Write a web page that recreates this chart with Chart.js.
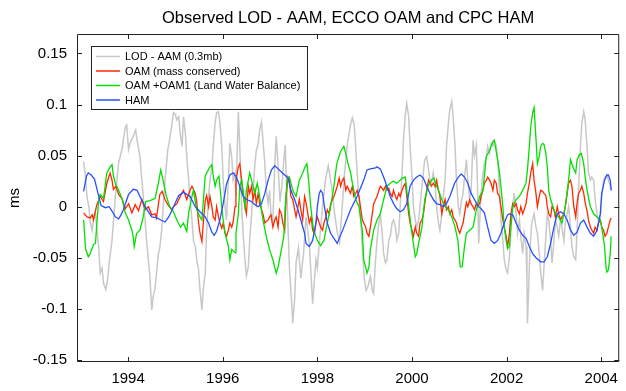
<!DOCTYPE html>
<html>
<head>
<meta charset="utf-8">
<title>Observed LOD - AAM, ECCO OAM and CPC HAM</title>
<script src="https://cdn.jsdelivr.net/npm/chart.js@4.4.1/dist/chart.umd.min.js"></script>
<style>
  html, body { margin: 0; padding: 0; background: #fff; }
</style>
</head>
<body>
<canvas id="lodChart" width="626" height="391"></canvas>
<script>
const chartTitle = 'Observed LOD - AAM, ECCO OAM and CPC HAM';
const seriesNames = ['LOD - AAM (0.3mb)', 'OAM (mass conserved)', 'OAM +OAM1 (Land Water Balance)', 'HAM'];
const seriesColors = ['#c8c8c8', '#ff2800', '#00e000', '#2850ff'];
const yearTicks = [1994, 1996, 1998, 2000, 2002, 2004];
const msTicks = [-0.15, -0.1, -0.05, 0, 0.05, 0.1, 0.15];

// LOD - AAM (0.3mb)
const lodYears = [
  1993.06, 1993.10, 1993.13, 1993.17, 1993.20, 1993.24, 1993.27, 1993.31, 1993.34, 1993.38,
  1993.41, 1993.45, 1993.48, 1993.53, 1993.57, 1993.60, 1993.66, 1993.73, 1993.80, 1993.87,
  1993.94, 1993.97, 1994.01, 1994.04, 1994.11, 1994.16, 1994.19, 1994.25, 1994.32, 1994.39,
  1994.46, 1994.50, 1994.53, 1994.57, 1994.64, 1994.67, 1994.71, 1994.74, 1994.78, 1994.84,
  1994.88, 1994.93, 1994.96, 1995.00, 1995.03, 1995.07, 1995.10, 1995.14, 1995.17, 1995.21,
  1995.24, 1995.28, 1995.31, 1995.35, 1995.38, 1995.42, 1995.45, 1995.49, 1995.52, 1995.56,
  1995.59, 1995.63, 1995.66, 1995.70, 1995.73, 1995.77, 1995.80, 1995.84, 1995.87, 1995.91,
  1995.94, 1995.98, 1996.01, 1996.05, 1996.08, 1996.12, 1996.15, 1996.19, 1996.22, 1996.26,
  1996.28, 1996.33, 1996.36, 1996.40, 1996.43, 1996.47, 1996.50, 1996.54, 1996.57, 1996.61,
  1996.64, 1996.68, 1996.71, 1996.75, 1996.78, 1996.82, 1996.85, 1996.89, 1996.92, 1996.96,
  1996.99, 1997.02, 1997.06, 1997.10, 1997.13, 1997.17, 1997.21, 1997.25, 1997.29, 1997.32,
  1997.35, 1997.39, 1997.41, 1997.45, 1997.48, 1997.52, 1997.55, 1997.60, 1997.65, 1997.71,
  1997.76, 1997.83, 1997.90, 1997.94, 1997.97, 1998.00, 1998.04, 1998.11, 1998.17, 1998.23,
  1998.30, 1998.36, 1998.42, 1998.47, 1998.51, 1998.57, 1998.63, 1998.70, 1998.74, 1998.78,
  1998.82, 1998.86, 1998.91, 1998.95, 1998.99, 1999.03, 1999.07, 1999.12, 1999.16, 1999.19,
  1999.22, 1999.26, 1999.30, 1999.33, 1999.37, 1999.40, 1999.44, 1999.47, 1999.51, 1999.54,
  1999.58, 1999.61, 1999.65, 1999.68, 1999.72, 1999.75, 1999.79, 1999.82, 1999.86, 1999.89,
  1999.93, 1999.96, 2000.00, 2000.03, 2000.07, 2000.10, 2000.14, 2000.17, 2000.21, 2000.24,
  2000.27, 2000.31, 2000.35, 2000.38, 2000.41, 2000.45, 2000.49, 2000.52, 2000.56, 2000.59,
  2000.63, 2000.66, 2000.70, 2000.73, 2000.77, 2000.80, 2000.84, 2000.87, 2000.91, 2000.94,
  2000.98, 2001.01, 2001.05, 2001.08, 2001.11, 2001.15, 2001.18, 2001.22, 2001.25, 2001.29,
  2001.32, 2001.36, 2001.39, 2001.41, 2001.44, 2001.48, 2001.53, 2001.57, 2001.60, 2001.64,
  2001.67, 2001.71, 2001.74, 2001.78, 2001.81, 2001.85, 2001.88, 2001.92, 2001.95, 2001.99,
  2002.02, 2002.06, 2002.09, 2002.13, 2002.16, 2002.20, 2002.23, 2002.27, 2002.30, 2002.34,
  2002.37, 2002.41, 2002.43, 2002.44, 2002.46, 2002.49, 2002.53, 2002.58, 2002.62, 2002.65,
  2002.69, 2002.72, 2002.76, 2002.79, 2002.83, 2002.86, 2002.89, 2002.93, 2002.96, 2003.00,
  2003.03, 2003.07, 2003.10, 2003.14, 2003.17, 2003.21, 2003.24, 2003.28, 2003.31, 2003.35,
  2003.38, 2003.42, 2003.46, 2003.49, 2003.52, 2003.56, 2003.59, 2003.63, 2003.66, 2003.70,
  2003.73, 2003.77, 2003.80, 2003.84, 2003.87, 2003.91, 2003.94, 2003.98, 2004.01, 2004.05,
  2004.08, 2004.12, 2004.15, 2004.19, 2004.21
];
const lodValues = [
  0.044, 0.030, 0.010, 0.000, -0.015, -0.023, -0.010, -0.005, -0.023, -0.040,
  -0.065, -0.060, -0.075, -0.081, -0.070, -0.055, -0.033, 0.010, 0.043, 0.056,
  0.078, 0.080, 0.056, 0.062, 0.069, 0.075, 0.065, 0.049, 0.010, -0.033,
  -0.068, -0.101, -0.088, -0.080, -0.046, -0.040, -0.023, 0.000, 0.026, 0.056,
  0.066, 0.082, 0.092, 0.090, 0.085, 0.088, 0.072, 0.059, 0.088, 0.072,
  0.049, 0.026, 0.007, -0.013, -0.033, -0.039, -0.052, -0.062, -0.082, -0.101,
  -0.080, -0.065, -0.023, 0.010, 0.026, 0.039, 0.059, 0.082, 0.092, 0.093,
  0.082, 0.059, 0.026, 0.000, -0.013, 0.026, 0.062, 0.049, 0.026, 0.033,
  0.010, 0.093, 0.059, 0.000, -0.026, -0.052, -0.068, -0.059, -0.033, -0.007,
  0.016, 0.042, 0.055, 0.062, 0.075, 0.083, 0.065, 0.042, 0.016, 0.003,
  0.016, -0.007, -0.013, 0.040, 0.069, 0.040, 0.005, 0.020, 0.045, 0.060,
  0.020, -0.033, -0.060, -0.090, -0.114, -0.090, -0.055, -0.040, -0.070, -0.045,
  -0.010, -0.036, -0.095, -0.070, -0.052, -0.060, -0.036, 0.000, 0.026, 0.040,
  0.020, -0.005, -0.025, -0.035, -0.010, 0.030, 0.060, 0.080, 0.087, 0.080,
  0.050, 0.020, -0.010, -0.040, -0.070, -0.082, -0.078, -0.068, -0.082, -0.085,
  -0.060, -0.033, -0.016, -0.007, -0.026, -0.046, -0.055, -0.052, -0.033, -0.029,
  -0.016, -0.013, -0.020, -0.033, -0.026, 0.000, 0.033, 0.065, 0.091, 0.101,
  0.088, 0.059, 0.029, 0.000, -0.013, -0.020, -0.013, 0.000, 0.020, 0.033,
  0.046, 0.049, 0.036, 0.026, 0.023, 0.033, 0.020, 0.000, -0.016, -0.023,
  -0.007, 0.010, 0.026, 0.059, 0.082, 0.095, 0.103, 0.088, 0.059, 0.026,
  0.000, -0.007, 0.007, 0.013, 0.029, 0.046, 0.026, 0.007, 0.016, 0.065,
  0.050, 0.060, 0.010, -0.036, -0.006, 0.026, 0.042, 0.049, 0.059, 0.052,
  0.062, 0.059, 0.065, 0.060, 0.046, 0.016, -0.013, -0.033, -0.052, -0.062,
  -0.065, -0.049, -0.020, 0.000, 0.013, -0.007, -0.026, -0.013, -0.029, -0.046,
  -0.026, -0.039, -0.072, -0.114, -0.088, -0.046, -0.016, -0.007, -0.020, -0.026,
  -0.046, -0.065, -0.082, -0.059, -0.029, -0.007, -0.013, -0.033, -0.055, -0.033,
  -0.013, -0.020, -0.029, -0.013, -0.020, -0.033, -0.016, -0.007, 0.000, -0.020,
  -0.039, -0.049, -0.052, -0.023, 0.016, 0.059, 0.082, 0.093, 0.085, 0.059,
  0.033, 0.026, 0.029, 0.026, 0.007, -0.007, -0.013, -0.010, 0.010, 0.026,
  0.029, 0.031, 0.026, 0.020, 0.016
];

// OAM (mass conserved)
const oamYears = [
  1993.06, 1993.13, 1993.20, 1993.24, 1993.27, 1993.31, 1993.34, 1993.41, 1993.48, 1993.55,
  1993.62, 1993.66, 1993.69, 1993.74, 1993.80, 1993.87, 1993.94, 1994.01, 1994.08, 1994.15,
  1994.22, 1994.29, 1994.36, 1994.43, 1994.50, 1994.57, 1994.60, 1994.67, 1994.72, 1994.78,
  1994.84, 1994.92, 1994.96, 1995.03, 1995.11, 1995.17, 1995.24, 1995.31, 1995.35, 1995.42,
  1995.45, 1995.49, 1995.52, 1995.56, 1995.59, 1995.63, 1995.66, 1995.70, 1995.73, 1995.77,
  1995.80, 1995.84, 1995.87, 1995.91, 1995.94, 1995.98, 1996.01, 1996.05, 1996.08, 1996.12,
  1996.15, 1996.19, 1996.22, 1996.26, 1996.28, 1996.33, 1996.36, 1996.40, 1996.43, 1996.47,
  1996.50, 1996.54, 1996.57, 1996.61, 1996.64, 1996.68, 1996.71, 1996.75, 1996.78, 1996.82,
  1996.85, 1996.89, 1996.96, 1996.99, 1997.02, 1997.06, 1997.10, 1997.13, 1997.17, 1997.20,
  1997.24, 1997.27, 1997.31, 1997.34, 1997.38, 1997.41, 1997.44, 1997.48, 1997.52, 1997.55,
  1997.59, 1997.62, 1997.65, 1997.69, 1997.73, 1997.76, 1997.80, 1997.83, 1997.87, 1997.90,
  1997.94, 1997.97, 1998.00, 1998.04, 1998.07, 1998.11, 1998.14, 1998.18, 1998.21, 1998.25,
  1998.28, 1998.35, 1998.42, 1998.46, 1998.49, 1998.53, 1998.56, 1998.60, 1998.63, 1998.67,
  1998.70, 1998.74, 1998.77, 1998.81, 1998.84, 1998.88, 1998.91, 1998.95, 1998.98, 1999.02,
  1999.05, 1999.09, 1999.12, 1999.16, 1999.19, 1999.23, 1999.26, 1999.30, 1999.33, 1999.37,
  1999.40, 1999.44, 1999.47, 1999.51, 1999.54, 1999.58, 1999.61, 1999.65, 1999.68, 1999.72,
  1999.75, 1999.79, 1999.82, 1999.86, 1999.89, 1999.93, 1999.96, 2000.00, 2000.03, 2000.07,
  2000.10, 2000.14, 2000.17, 2000.21, 2000.24, 2000.27, 2000.31, 2000.35, 2000.38, 2000.41,
  2000.45, 2000.49, 2000.52, 2000.56, 2000.59, 2000.63, 2000.66, 2000.70, 2000.73, 2000.77,
  2000.80, 2000.84, 2000.87, 2000.91, 2000.94, 2000.98, 2001.01, 2001.05, 2001.08, 2001.11,
  2001.15, 2001.18, 2001.22, 2001.25, 2001.29, 2001.32, 2001.36, 2001.39, 2001.43, 2001.46,
  2001.50, 2001.53, 2001.57, 2001.60, 2001.64, 2001.67, 2001.71, 2001.74, 2001.78, 2001.81,
  2001.85, 2001.88, 2001.92, 2001.95, 2001.99, 2002.02, 2002.06, 2002.09, 2002.13, 2002.16,
  2002.20, 2002.23, 2002.27, 2002.30, 2002.34, 2002.37, 2002.41, 2002.44, 2002.48, 2002.51,
  2002.55, 2002.58, 2002.62, 2002.65, 2002.69, 2002.72, 2002.76, 2002.79, 2002.83, 2002.86,
  2002.89, 2002.93, 2002.96, 2003.00, 2003.03, 2003.07, 2003.10, 2003.14, 2003.17, 2003.21,
  2003.24, 2003.28, 2003.31, 2003.35, 2003.38, 2003.42, 2003.46, 2003.49, 2003.52, 2003.56,
  2003.59, 2003.63, 2003.66, 2003.70, 2003.73, 2003.77, 2003.80, 2003.84, 2003.87, 2003.91,
  2003.94, 2003.98, 2004.01, 2004.05, 2004.08, 2004.12, 2004.15, 2004.19, 2004.21
];
const oamValues = [
  -0.006, -0.010, -0.011, -0.008, -0.013, -0.004, 0.002, 0.010, 0.005, 0.023,
  0.033, 0.026, 0.017, 0.020, 0.012, 0.008, -0.002, 0.003, -0.006, 0.002,
  -0.004, 0.007, -0.003, 0.000, -0.008, -0.007, -0.011, 0.012, 0.015, 0.007,
  0.002, -0.003, 0.000, 0.003, 0.011, 0.016, 0.007, 0.016, 0.020, 0.013,
  0.005, -0.016, -0.026, -0.034, -0.016, 0.006, 0.011, 0.000, 0.010, 0.000,
  -0.010, -0.013, 0.000, -0.010, -0.016, -0.021, -0.016, -0.026, -0.029, -0.023,
  -0.016, -0.020, -0.015, 0.000, 0.026, 0.039, 0.042, 0.026, 0.013, 0.000,
  -0.007, 0.020, 0.013, 0.020, 0.007, 0.016, 0.003, 0.013, 0.003, -0.003,
  -0.007, -0.016, -0.013, -0.010, -0.008, -0.020, -0.013, -0.010, -0.020, -0.003,
  -0.007, -0.016, -0.023, 0.010, 0.029, 0.026, 0.010, 0.007, -0.003, -0.010,
  0.000, 0.007, -0.003, -0.013, 0.010, 0.004, -0.007, -0.016, -0.010, -0.023,
  -0.026, -0.016, -0.010, -0.016, -0.020, -0.023, -0.016, -0.010, -0.003, -0.007,
  0.003, 0.010, 0.020, 0.028, 0.020, 0.026, 0.028, 0.016, 0.020, 0.016,
  0.013, 0.020, 0.010, 0.013, 0.016, 0.010, 0.000, -0.013, -0.016, -0.020,
  -0.026, -0.029, -0.020, -0.007, 0.003, 0.007, 0.010, 0.016, 0.020, 0.018,
  0.016, 0.020, 0.016, 0.018, 0.013, 0.010, 0.016, 0.010, 0.007, 0.013,
  0.010, 0.016, 0.020, 0.023, 0.010, -0.007, -0.016, -0.023, -0.029, -0.020,
  -0.026, -0.029, -0.016, -0.013, -0.007, 0.003, 0.016, 0.026, 0.023, 0.020,
  0.023, 0.020, 0.026, 0.016, 0.010, -0.007, 0.000, 0.007, -0.003, 0.000,
  -0.007, -0.003, -0.010, -0.013, -0.016, -0.023, -0.026, -0.020, -0.016, -0.007,
  0.004, 0.000, 0.007, 0.003, 0.000, -0.003, 0.003, 0.000, 0.003, 0.010,
  0.016, 0.023, 0.026, 0.029, 0.026, 0.023, 0.016, 0.026, 0.023, 0.013,
  0.010, 0.000, -0.013, -0.020, -0.029, -0.039, -0.026, -0.007, 0.003, 0.000,
  0.003, -0.003, -0.007, 0.000, -0.007, -0.003, 0.003, 0.013, 0.023, 0.033,
  0.042, 0.026, 0.013, 0.000, 0.010, 0.016, 0.015, 0.013, 0.011, 0.000,
  -0.007, -0.010, 0.000, -0.003, -0.010, 0.000, -0.007, -0.013, -0.010, -0.007,
  0.000, 0.013, 0.023, 0.026, 0.020, 0.000, -0.010, 0.004, 0.013, 0.016,
  0.020, 0.013, 0.004, -0.004, -0.013, -0.020, -0.023, -0.026, -0.020, -0.023,
  -0.016, -0.013, -0.020, -0.023, -0.029, -0.026, -0.020, -0.013, -0.011
];

// OAM + OAM1 (Land Water Balance)
const oamLwbYears = [
  1993.06, 1993.10, 1993.16, 1993.19, 1993.27, 1993.31, 1993.34, 1993.38, 1993.41, 1993.48,
  1993.55, 1993.62, 1993.66, 1993.69, 1993.73, 1993.80, 1993.87, 1993.94, 1994.01, 1994.08,
  1994.11, 1994.13, 1994.18, 1994.25, 1994.32, 1994.37, 1994.46, 1994.57, 1994.64, 1994.69,
  1994.74, 1994.81, 1994.88, 1994.94, 1995.03, 1995.11, 1995.17, 1995.24, 1995.28, 1995.35,
  1995.38, 1995.45, 1995.52, 1995.56, 1995.63, 1995.66, 1995.73, 1995.77, 1995.80, 1995.84,
  1995.87, 1995.92, 1995.98, 1996.01, 1996.05, 1996.12, 1996.15, 1996.19, 1996.26, 1996.28,
  1996.33, 1996.36, 1996.40, 1996.47, 1996.50, 1996.57, 1996.61, 1996.68, 1996.73, 1996.78,
  1996.85, 1996.92, 1996.99, 1997.06, 1997.13, 1997.17, 1997.24, 1997.29, 1997.32, 1997.36,
  1997.41, 1997.48, 1997.55, 1997.62, 1997.69, 1997.74, 1997.78, 1997.82, 1997.86, 1997.92,
  1998.00, 1998.07, 1998.14, 1998.21, 1998.28, 1998.35, 1998.41, 1998.49, 1998.56, 1998.60,
  1998.67, 1998.70, 1998.74, 1998.81, 1998.88, 1998.91, 1998.95, 1998.98, 1999.02, 1999.05,
  1999.09, 1999.12, 1999.19, 1999.26, 1999.33, 1999.40, 1999.47, 1999.54, 1999.61, 1999.68,
  1999.75, 1999.79, 1999.86, 1999.89, 1999.93, 1999.98, 2000.03, 2000.07, 2000.10, 2000.14,
  2000.17, 2000.21, 2000.24, 2000.27, 2000.34, 2000.41, 2000.46, 2000.52, 2000.56, 2000.63,
  2000.70, 2000.77, 2000.84, 2000.91, 2000.97, 2001.02, 2001.06, 2001.11, 2001.15, 2001.22,
  2001.29, 2001.36, 2001.43, 2001.50, 2001.57, 2001.64, 2001.71, 2001.74, 2001.78, 2001.81,
  2001.85, 2001.88, 2001.92, 2001.95, 2001.99, 2002.02, 2002.06, 2002.09, 2002.13, 2002.20,
  2002.27, 2002.34, 2002.41, 2002.44, 2002.48, 2002.51, 2002.55, 2002.58, 2002.60, 2002.63,
  2002.65, 2002.69, 2002.72, 2002.76, 2002.79, 2002.83, 2002.86, 2002.89, 2002.93, 2002.98,
  2003.03, 2003.10, 2003.17, 2003.24, 2003.31, 2003.35, 2003.40, 2003.46, 2003.49, 2003.54,
  2003.58, 2003.63, 2003.66, 2003.70, 2003.77, 2003.84, 2003.91, 2003.98, 2004.01, 2004.07,
  2004.10, 2004.12, 2004.15, 2004.19, 2004.21
];
const oamLwbValues = [
  -0.013, -0.041, -0.049, -0.047, -0.037, -0.036, -0.016, 0.007, 0.012, 0.008,
  0.033, 0.039, 0.041, 0.030, 0.023, 0.016, 0.008, -0.006, -0.013, -0.023,
  -0.030, -0.039, -0.026, -0.023, -0.010, 0.005, 0.006, 0.008, 0.023, 0.036,
  0.026, 0.010, 0.000, -0.003, -0.013, -0.020, -0.016, -0.024, -0.006, 0.010,
  0.016, -0.003, -0.010, -0.013, 0.030, 0.033, 0.039, 0.041, 0.030, 0.020,
  0.026, 0.030, 0.000, -0.013, -0.026, -0.039, -0.052, -0.042, -0.045, -0.026,
  -0.007, 0.020, 0.026, 0.000, 0.016, 0.033, 0.026, 0.013, 0.023, 0.010,
  -0.013, -0.029, -0.042, -0.052, -0.065, -0.059, -0.042, -0.029, 0.000, 0.026,
  0.029, 0.016, 0.010, 0.026, 0.033, 0.039, 0.042, 0.023, 0.000, -0.023,
  -0.033, -0.038, -0.033, -0.016, 0.000, 0.020, 0.042, 0.054, 0.059, 0.052,
  0.038, 0.034, 0.023, 0.007, 0.000, -0.010, -0.023, -0.052, -0.059, -0.065,
  -0.059, -0.042, -0.023, -0.013, -0.007, 0.007, 0.020, 0.023, 0.025, 0.023,
  0.026, 0.028, 0.029, 0.016, 0.000, -0.020, -0.036, -0.049, -0.046, -0.036,
  -0.029, -0.020, -0.007, 0.007, 0.020, 0.026, 0.028, 0.020, 0.016, 0.007,
  0.000, -0.003, -0.010, -0.020, -0.033, -0.059, -0.059, -0.039, -0.026, -0.023,
  -0.020, -0.003, 0.010, 0.016, 0.049, 0.055, 0.064, 0.065, 0.054, 0.046,
  0.033, 0.020, 0.000, -0.020, -0.033, -0.041, -0.039, -0.020, 0.000, 0.007,
  0.010, 0.016, 0.023, 0.036, 0.059, 0.078, 0.092, 0.097, 0.082, 0.059,
  0.042, 0.049, 0.059, 0.062, 0.061, 0.052, 0.039, 0.016, 0.007, 0.000,
  -0.007, -0.010, -0.016, 0.000, 0.026, 0.046, 0.039, 0.033, 0.046, 0.051,
  0.052, 0.042, 0.029, 0.016, 0.000, -0.007, -0.010, -0.013, -0.020, -0.039,
  -0.059, -0.064, -0.062, -0.046, -0.029
];

// HAM
const hamYears = [
  1993.06, 1993.12, 1993.16, 1993.22, 1993.29, 1993.38, 1993.43, 1993.52, 1993.60, 1993.67,
  1993.73, 1993.80, 1993.85, 1993.90, 1994.01, 1994.11, 1994.19, 1994.25, 1994.36, 1994.50,
  1994.61, 1994.69, 1994.78, 1994.86, 1994.96, 1995.07, 1995.17, 1995.31, 1995.42, 1995.52,
  1995.63, 1995.70, 1995.77, 1995.82, 1995.87, 1995.94, 1996.01, 1996.08, 1996.15, 1996.22,
  1996.29, 1996.36, 1996.43, 1996.50, 1996.61, 1996.68, 1996.75, 1996.82, 1996.89, 1996.96,
  1997.03, 1997.10, 1997.17, 1997.24, 1997.31, 1997.38, 1997.44, 1997.52, 1997.59, 1997.65,
  1997.73, 1997.76, 1997.83, 1997.90, 1997.97, 1998.00, 1998.04, 1998.07, 1998.11, 1998.15,
  1998.21, 1998.28, 1998.35, 1998.42, 1998.56, 1998.70, 1998.84, 1998.98, 1999.05, 1999.12,
  1999.23, 1999.26, 1999.33, 1999.40, 1999.47, 1999.54, 1999.61, 1999.68, 1999.75, 1999.82,
  1999.89, 1999.96, 2000.03, 2000.10, 2000.17, 2000.24, 2000.31, 2000.38, 2000.45, 2000.52,
  2000.59, 2000.66, 2000.73, 2000.80, 2000.90, 2000.98, 2001.04, 2001.11, 2001.18, 2001.25,
  2001.32, 2001.39, 2001.46, 2001.53, 2001.60, 2001.67, 2001.74, 2001.81, 2001.88, 2001.95,
  2002.02, 2002.06, 2002.13, 2002.20, 2002.27, 2002.34, 2002.41, 2002.48, 2002.55, 2002.62,
  2002.72, 2002.79, 2002.86, 2002.93, 2003.00, 2003.07, 2003.14, 2003.21, 2003.28, 2003.35,
  2003.42, 2003.49, 2003.56, 2003.63, 2003.70, 2003.77, 2003.84, 2003.91, 2003.98, 2004.01,
  2004.07, 2004.12, 2004.15, 2004.19, 2004.21
];
const hamValues = [
  0.015, 0.030, 0.033, 0.031, 0.027, 0.010, 0.001, -0.001, 0.000, -0.005,
  -0.010, -0.012, -0.008, -0.003, 0.012, 0.017, 0.016, 0.010, 0.000, -0.010,
  -0.011, -0.013, -0.015, -0.010, 0.000, 0.011, 0.014, 0.010, 0.000, -0.005,
  -0.010, -0.016, -0.025, -0.028, -0.024, -0.013, 0.003, 0.022, 0.031, 0.033,
  0.029, 0.020, 0.010, 0.007, 0.005, 0.002, 0.000, 0.003, 0.013, 0.026,
  0.036, 0.040, 0.037, 0.034, 0.031, 0.028, 0.016, 0.007, -0.003, -0.013,
  -0.026, -0.036, -0.039, -0.033, -0.016, 0.000, 0.013, 0.016, 0.013, 0.000,
  -0.016, -0.026, -0.031, -0.036, -0.020, -0.003, 0.010, 0.026, 0.036, 0.037,
  0.038, 0.039, 0.037, 0.029, 0.020, 0.010, 0.003, -0.002, -0.005, -0.003,
  0.003, 0.020, 0.026, 0.029, 0.031, 0.028, 0.020, 0.013, 0.007, 0.003,
  0.002, 0.000, 0.003, 0.010, 0.023, 0.029, 0.032, 0.029, 0.023, 0.013,
  0.007, 0.001, -0.002, -0.006, -0.020, -0.033, -0.036, -0.033, -0.026, -0.016,
  -0.008, -0.007, -0.008, -0.016, -0.023, -0.028, -0.031, -0.039, -0.046, -0.050,
  -0.054, -0.054, -0.049, -0.036, -0.020, -0.007, -0.005, -0.007, -0.013, -0.023,
  -0.028, -0.025, -0.016, -0.013, -0.020, -0.026, -0.029, -0.023, -0.007, 0.013,
  0.026, 0.031, 0.031, 0.026, 0.016
];

const FONT = '"Liberation Sans", Arial, Helvetica, sans-serif';

function toPoints(years, values) {
  return years.map((t, i) => ({ x: t, y: values[i] }));
}

// axes box with inward ticks, legend box and title
const decorPlugin = {
  id: 'decor',
  afterDatasetsDraw(chart) {
    const { ctx, chartArea: a, scales: { x, y } } = chart;
    ctx.save();
    ctx.strokeStyle = '#222';
    ctx.lineWidth = 1;
    ctx.beginPath();
    ctx.rect(a.left + 0.5, a.top + 0.5, a.right - a.left - 1, a.bottom - a.top - 1);
    yearTicks.forEach(t => {
      const px = Math.round(x.getPixelForValue(t)) + 0.5;
      ctx.moveTo(px, a.bottom); ctx.lineTo(px, a.bottom - 5);
      ctx.moveTo(px, a.top); ctx.lineTo(px, a.top + 5);
    });
    msTicks.forEach(v => {
      const py = Math.round(y.getPixelForValue(v)) + 0.5;
      ctx.moveTo(a.left, py); ctx.lineTo(a.left + 5, py);
      ctx.moveTo(a.right, py); ctx.lineTo(a.right - 5, py);
    });
    ctx.stroke();

    // legend
    const bx = a.left + 14, by = a.top + 12, bw = 216, bh = 63;
    ctx.fillStyle = '#fff';
    ctx.fillRect(bx, by, bw, bh);
    ctx.strokeStyle = '#222';
    ctx.strokeRect(bx + 0.5, by + 0.5, bw, bh);
    ctx.font = '11px ' + FONT;
    ctx.textBaseline = 'middle';
    ctx.textAlign = 'left';
    seriesNames.forEach((name, i) => {
      const ry = by + 10.5 + i * 14.5;
      ctx.strokeStyle = seriesColors[i];
      ctx.lineWidth = 1.5;
      ctx.beginPath();
      ctx.moveTo(bx + 5, ry); ctx.lineTo(bx + 29, ry);
      ctx.stroke();
      ctx.fillStyle = '#000';
      ctx.fillText(name, bx + 34, ry + 0.5);
    });
    ctx.restore();
  },
  afterDraw(chart) {
    const { ctx, chartArea: a } = chart;
    ctx.save();
    ctx.font = '16.5px ' + FONT;
    ctx.fillStyle = '#000';
    ctx.textAlign = 'center';
    ctx.textBaseline = 'alphabetic';
    ctx.fillText(chartTitle, (a.left + a.right) / 2, 23);
    ctx.restore();
  }
};

const lineStyle = { pointRadius: 0, borderWidth: 1.3, tension: 0, fill: false };

new Chart(document.getElementById('lodChart'), {
  type: 'line',
  data: {
    datasets: [
      { label: seriesNames[0], data: toPoints(lodYears, lodValues), borderColor: seriesColors[0], order: 3, ...lineStyle, borderWidth: 1.5 },
      { label: seriesNames[1], data: toPoints(oamYears, oamValues), borderColor: seriesColors[1], order: 2, ...lineStyle },
      { label: seriesNames[2], data: toPoints(oamLwbYears, oamLwbValues), borderColor: seriesColors[2], order: 1, ...lineStyle },
      { label: seriesNames[3], data: toPoints(hamYears, hamValues), borderColor: seriesColors[3], order: 0, ...lineStyle }
    ]
  },
  options: {
    responsive: false,
    animation: false,
    events: [],
    layout: { padding: { top: 34, right: 2, left: 0, bottom: 0 } },
    plugins: {
      legend: { display: false },
      title: { display: false },
      tooltip: { enabled: false }
    },
    scales: {
      x: {
        type: 'linear',
        min: 1992.92,
        max: 2004.38,
        grid: { display: false, drawTicks: false },
        border: { display: false },
        afterBuildTicks: s => { s.ticks = yearTicks.map(v => ({ value: v })); },
        afterFit: s => { s.height = 29; },
        ticks: {
          color: '#000',
          font: { family: FONT, size: 15 },
          padding: 8,
          maxRotation: 0,
          autoSkip: false,
          callback: v => String(v)
        }
      },
      y: {
        min: -0.152,
        max: 0.169,
        grid: { display: false, drawTicks: false },
        border: { display: false },
        afterBuildTicks: s => { s.ticks = msTicks.map(v => ({ value: v })); },
        afterFit: s => { s.width = 77; },
        ticks: {
          color: '#000',
          font: { family: FONT, size: 15 },
          padding: 10,
          autoSkip: false,
          callback: v => String(v)
        },
        title: {
          display: true,
          text: 'ms',
          color: '#000',
          font: { family: FONT, size: 15 },
          padding: { top: 6, bottom: 0 }
        }
      }
    }
  },
  plugins: [decorPlugin]
});
</script>
</body>
</html>
